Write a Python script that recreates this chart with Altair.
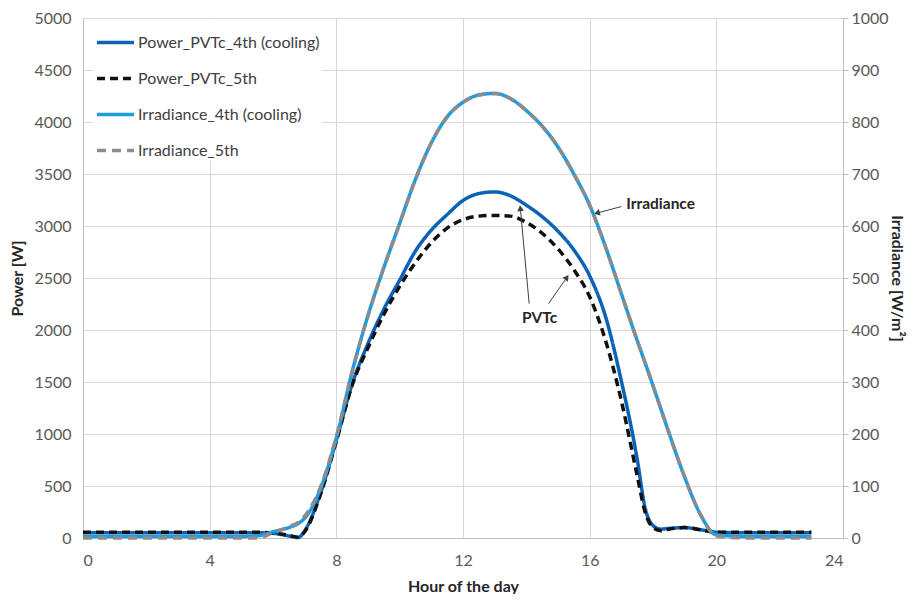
import math
import altair as alt
import pandas as pd

# ---------------- data ----------------
hours = [0, 1, 2, 3, 4, 5, 5.5, 6, 6.5, 6.8, 7, 7.5, 8, 8.5, 9, 9.5, 10, 10.5, 11, 11.5,
         12, 12.5, 13, 13.5, 14, 14.5, 15, 15.5, 16, 16.5, 17, 17.5, 17.75, 18, 18.25,
         18.5, 19, 19.5, 20, 21, 22, 23]

power_4th = [50, 50, 50, 50, 50, 50, 50, 45, 20, 5, 70, 430, 940, 1480, 1870, 2200, 2480, 2760, 2960, 3110,
             3245, 3312, 3328, 3290, 3200, 3090, 2950, 2770, 2520, 2130, 1510, 760, 290, 120, 85,
             92, 100, 80, 55, 50, 50, 50]

power_5th = [55, 55, 55, 55, 55, 55, 55, 50, 25, 8, 60, 420, 930, 1470, 1830, 2150, 2420, 2650, 2840, 2980,
             3060, 3095, 3102, 3095, 3035, 2930, 2780, 2580, 2320, 1900, 1320, 600, 250, 100, 70,
             85, 100, 80, 55, 55, 55, 55]

irr_4th = [3, 3, 3, 3, 3, 3, 4, 12, 20, 28, 38, 95, 192, 320, 428, 520, 605, 690, 760, 810,
           838, 852, 855, 845, 822, 792, 752, 700, 640, 560, 470, 380, 337, 293, 248,
           203, 117, 45, 6, 3, 3, 3]

irr_5th = [0, 0, 0, 0, 0, 0, 0, 10, 22, 30, 42, 98, 195, 320, 428, 520, 605, 690, 760, 810,
           838, 852, 855, 845, 822, 792, 752, 700, 640, 560, 470, 380, 337, 293, 248,
           203, 117, 45, 4, 0, 0, 0]

names = ["Power_PVTc_4th (cooling)", "Power_PVTc_5th", "Irradiance_4th (cooling)", "Irradiance_5th"]

ann_text = ["Irradiance", "PVTc"]
ann_hour = [18.24, 14.42]
ann_value = [3216, 2113]

arrow_hour = [17.0, 14.09, 14.70]
arrow_value = [3187, 2253, 2253]
arrow_hour_end = [16.23, 13.81, 15.28]
arrow_value_end = [3124, 3171, 2506]

x_ticks = [0, 4, 8, 12, 16, 20, 24]
power_ticks = list(range(0, 5001, 500))
irr_ticks = list(range(0, 1001, 100))

# ---------------- styling ----------------
W, H = 760, 520
colors = ["#0B63B7", "#111111", "#1E9CE0", "#8C8C8C"]
dashes = [[1, 0], [8, 5], [1, 0], [9, 6]]
FONT = "Lato"


def frame(vals, name):
    return pd.DataFrame({"hour": hours, "value": vals, "series": name})


power_df = pd.concat([frame(power_4th, names[0]), frame(power_5th, names[1])])
irr_df = pd.concat([frame(irr_4th, names[2]), frame(irr_5th, names[3])])

ann_df = pd.DataFrame({"hour": ann_hour, "value": ann_value, "label": ann_text})
arrow_df = pd.DataFrame({"hour": arrow_hour, "value": arrow_value,
                         "hour_end": arrow_hour_end, "value_end": arrow_value_end})

# arrow head angle from the direction in screen space
px_h = W / 24.0
px_v = H / 5000.0
angles = []
for x0, y0, x1, y1 in zip(arrow_hour, arrow_value, arrow_hour_end, arrow_value_end):
    dx = (x1 - x0) * px_h
    dy = -(y1 - y0) * px_v
    angles.append(math.degrees(math.atan2(dx, -dy)) % 360)
head_df = pd.DataFrame({"hour": arrow_hour_end, "value": arrow_value_end, "angle": angles})

xscale = alt.Scale(domain=[0, 24], nice=False, zero=False)
pscale = alt.Scale(domain=[0, 5000], nice=False)
iscale = alt.Scale(domain=[0, 1000], nice=False)

legend = alt.Legend(title=None, orient="none", legendX=10, legendY=2, fillColor="white",
                    padding=2, symbolType="stroke", symbolSize=1369, symbolStrokeWidth=3.5,
                    labelFont=FONT, labelFontSize=16, labelColor="#404040", rowPadding=7,
                    labelOffset=2, labelLimit=400)

color = alt.Color("series:N", scale=alt.Scale(domain=names, range=colors), legend=legend)
dash = alt.StrokeDash("series:N", scale=alt.Scale(domain=names, range=dashes), legend=legend)

x_enc = alt.X("hour:Q", scale=xscale,
              axis=alt.Axis(values=x_ticks, title="Hour of the day", grid=True, ticks=False,
                            labelPadding=14, titlePadding=10, domain=True, format="d"))

p_y = alt.Y("value:Q", scale=pscale,
            axis=alt.Axis(orient="left", values=power_ticks, title="Power [W]", grid=True,
                          ticks=False, labelPadding=12, titlePadding=8, domain=True, format="d"))

i_y = alt.Y("value:Q", scale=iscale,
            axis=alt.Axis(orient="right", values=irr_ticks, title="Irradiance [W/m²]", grid=False,
                          ticks=True, tickSize=5, labelPadding=3, titlePadding=0, domain=True,
                          format="d"))

line_kw = dict(strokeWidth=3.5, interpolate="monotone", strokeCap="butt")

p4 = alt.Chart(power_df[power_df.series == names[0]]).mark_line(**line_kw).encode(
    x=x_enc, y=p_y, color=color, strokeDash=dash)
p5 = alt.Chart(power_df[power_df.series == names[1]]).mark_line(**line_kw).encode(
    x=alt.X("hour:Q", scale=xscale), y=alt.Y("value:Q", scale=pscale), color=color, strokeDash=dash)

rules = alt.Chart(arrow_df).mark_rule(color="#404040", strokeWidth=1).encode(
    x=alt.X("hour:Q", scale=xscale), y=alt.Y("value:Q", scale=pscale),
    x2="hour_end:Q", y2="value_end:Q")
heads = alt.Chart(head_df).mark_point(shape="triangle-up", filled=True, size=45,
                                      color="#404040", opacity=1).encode(
    x=alt.X("hour:Q", scale=xscale), y=alt.Y("value:Q", scale=pscale),
    angle=alt.Angle("angle:Q", scale=None))
texts = alt.Chart(ann_df).mark_text(font=FONT, fontSize=15.5, fontWeight="bold",
                                    color="#262626").encode(
    x=alt.X("hour:Q", scale=xscale), y=alt.Y("value:Q", scale=pscale), text="label:N")

i4 = alt.Chart(irr_df[irr_df.series == names[2]]).mark_line(**line_kw).encode(
    x=alt.X("hour:Q", scale=xscale), y=i_y, color=color, strokeDash=dash)
i5 = alt.Chart(irr_df[irr_df.series == names[3]]).mark_line(**line_kw).encode(
    x=alt.X("hour:Q", scale=xscale), y=alt.Y("value:Q", scale=iscale), color=color, strokeDash=dash)

left = alt.layer(p4, p5, rules, heads, texts)
right = alt.layer(i4, i5)

chart = alt.layer(left, right).resolve_scale(y="independent").properties(
    width=W, height=H,
    autosize=alt.AutoSizeParams(type="none"),
    padding={"left": 75, "top": 10, "right": 68, "bottom": 56},
).configure_view(stroke=None).configure_axis(
    labelFont=FONT, labelFontSize=16, labelColor="#595959",
    titleFont=FONT, titleFontSize=16, titleFontWeight="bold", titleColor="#262626",
    gridColor="#D9D9D9", gridWidth=1, domainColor="#BFBFBF", tickColor="#BFBFBF",
)

chart.save("out.html", embed_options={"renderer": "svg", "actions": False})
